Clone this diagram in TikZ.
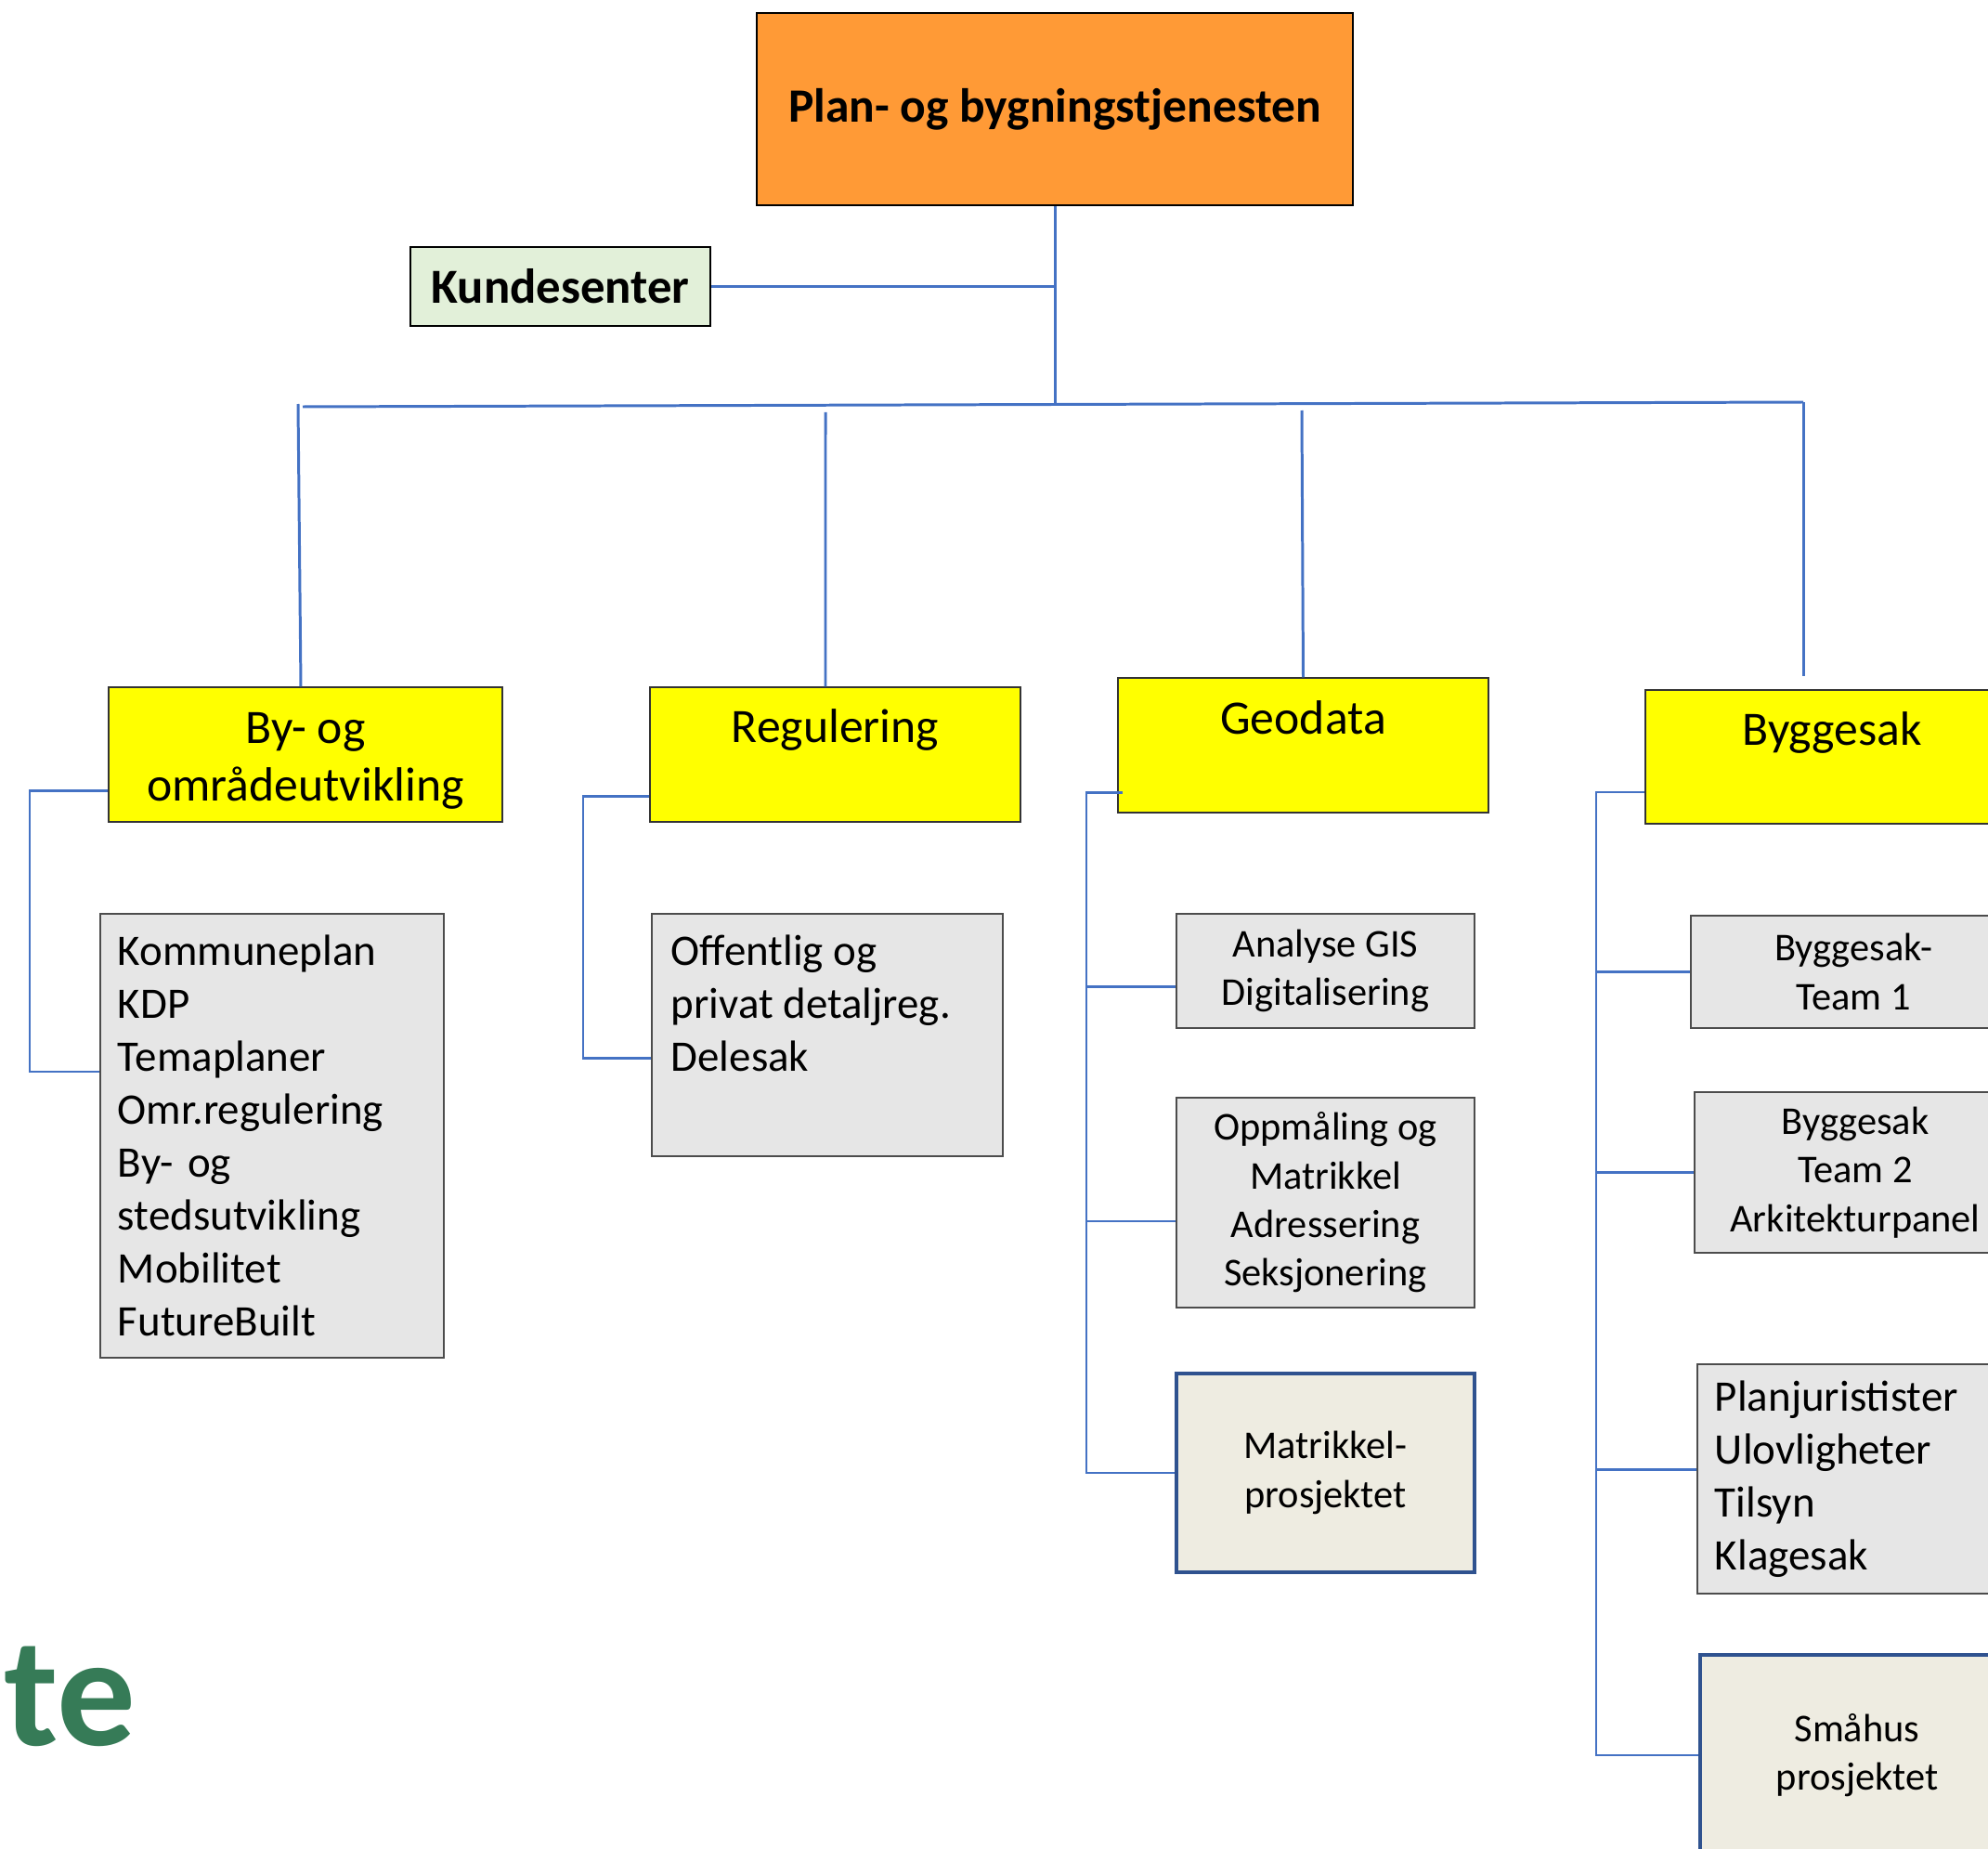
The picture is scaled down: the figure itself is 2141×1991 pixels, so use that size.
\documentclass[tikz,border=0pt]{standalone}
\usepackage{fontspec}
\setmainfont{Carlito}
\definecolor{pbLine}{HTML}{4472C4}
\definecolor{pbOrange}{HTML}{FF9A36}
\definecolor{pbYellow}{HTML}{FFFF00}
\definecolor{pbGreen}{HTML}{E2F0D9}
\definecolor{pbGrey}{HTML}{E6E6E6}
\definecolor{pbBeige}{HTML}{EEECE1}
\definecolor{pbBorder}{HTML}{2F528F}
\definecolor{pbLogo}{HTML}{367B57}

\begin{document}
\begin{tikzpicture}[
  x=0.01cm,y=-0.01cm,
  link/.style={draw=pbLine, line width=0.85pt},
  branch/.style={draw=pbLine, line width=0.7pt},
  topbox/.style={draw=black, fill=pbOrange, line width=0.5pt, inner sep=0pt,
    font=\fontsize{14.65pt}{17pt}\selectfont\bfseries},
  kbox/.style={draw=black, fill=pbGreen, line width=0.6pt, inner sep=0pt,
    font=\fontsize{15pt}{18pt}\selectfont\bfseries},
  unitbox/.style={draw=black!80, fill=pbYellow, line width=0.4pt, inner sep=0pt},
  listbox/.style={draw=black!70, fill=pbGrey, line width=0.4pt,
    inner xsep=0.19cm, inner ysep=0pt, align=left,
    font=\fontsize{13.35pt}{16.2pt}\selectfont},
  teambox/.style={draw=black!70, fill=pbGrey, line width=0.4pt, inner sep=0pt,
    align=center, font=\fontsize{12.06pt}{14.9pt}\selectfont},
  projbox/.style={teambox, draw=pbBorder, fill=pbBeige, line width=1pt},
  lbl/.style={inner sep=0pt, align=center, font=\fontsize{14.7pt}{17.6pt}\selectfont}
]
\useasboundingbox (0,0) rectangle (2141,1991);

% top of the tree
\node[topbox, minimum width=6.42cm, minimum height=2.07cm] (pbt) at (1136,117.5)
  {Plan- og bygningstjenesten};
\node[kbox, minimum width=3.23cm, minimum height=0.85cm] (kunde) at (603.5,308.5)
  {Kundesenter};

% the four units
\node[unitbox, minimum width=4.24cm, minimum height=1.45cm] (byomr) at (329,812.5) {};
\node[unitbox, minimum width=3.99cm, minimum height=1.45cm] (regul) at (899.5,812.5) {};
\node[unitbox, minimum width=3.99cm, minimum height=1.45cm] (geo) at (1403.5,802.5) {};
\node[unitbox, minimum width=4.02cm, minimum height=1.44cm] (bygg) at (1973,815) {};
\node[lbl] (byomrtxt) at (329,819.5) {By- og\\områdeutvikling};
\node[lbl, anchor=base] (regultxt) at (899.5,799) {Regulering};
\node[lbl, anchor=base] (geotxt) at (1403.5,790) {Geodata};
\node[lbl, anchor=base] (byggtxt) at (1973,802) {Byggesak};

% sections
\node[listbox, text width=3.32cm, minimum height=4.78cm] (plan) at (293,1223)
  {Kommuneplan\\KDP\\Temaplaner\\Omr.regulering\\By- og\\stedsutvikling\\Mobilitet\\FutureBuilt};
\node[listbox, minimum width=3.78cm, minimum height=2.61cm] (detalj) at (891,1114.5) {};
\node[lbl, anchor=north west, align=left, font=\fontsize{13.35pt}{16.2pt}\selectfont]
  (detaljtxt) at (722,1006) {Offentlig og\\privat detaljreg.\\Delesak};

\node[teambox, minimum width=3.21cm, minimum height=1.23cm] (gis) at (1427.5,1045.5)
  {Analyse GIS\\Digitalisering};
\node[teambox, minimum width=3.21cm, minimum height=2.26cm] (oppm) at (1427.5,1295)
  {Oppmåling og\\Matrikkel\\Adressering\\Seksjonering};
\node[projbox, minimum width=3.21cm, minimum height=2.14cm] (matrp) at (1427.5,1586)
  {Matrikkel-\\prosjektet};

\node[teambox, minimum width=3.50cm, minimum height=1.21cm] (team1) at (1996,1046.5)
  {Byggesak-\\Team 1};
\node[teambox, minimum width=3.46cm, minimum height=1.73cm] (team2) at (1998,1262.5)
  {Byggesak\\Team 2\\Arkitekturpanel};
\node[listbox, text width=3.04cm, minimum height=2.47cm] (jur) at (1999,1592.5)
  {Planjuristister\\Ulovligheter\\Tilsyn\\Klagesak};
\node[projbox, minimum width=3.38cm, minimum height=2.16cm] (smaahus) at (2000,1890)
  {Småhus\\prosjektet};

\node[anchor=base east, inner sep=0pt, text=pbLogo,
  font=\fontsize{48pt}{48pt}\selectfont\bfseries] (logo) at (147,1879) {te};

% connectors
\coordinate (bl) at (326,438);
\coordinate (br) at (1942,433);
\coordinate (hub) at (1136,435.5);
\coordinate (d1) at (321,435);
\coordinate (d2) at (889,444);
\coordinate (d3) at (1402,442);
\draw[link] (pbt.south) -- (hub);
\draw[link] (kunde.east) -- (kunde.east -| hub);
\draw[link] (bl) -- (br);
\draw[link] (d1) -- ([xshift=-0.05cm]byomr.north);
\draw[link] (d2) -- ([xshift=-0.105cm]regul.north);
\draw[link] (d3) -- (geo.north);
\draw[link, shorten >=0.14cm] (br) -- (br |- bygg.north);

\draw[branch] ([yshift=-0.39cm]byomr.west) -- ++(-84,0) |- ([yshift=0.69cm]plan.west);
\draw[branch] ([yshift=-0.45cm]regul.west) -- ++(-71,0) |- ([yshift=-0.25cm]detalj.west);

\draw[branch] ([shift={(0.06cm,-0.51cm)}]geo.west) -- ++(-39,0) coordinate (gv)
  |- (matrp.west);
\draw[branch] ([yshift=-0.17cm]gis.west) -- ++(-96,0);
\draw[branch] ([yshift=-0.20cm]oppm.west) -- ++(-96,0);

\draw[branch] ([yshift=-0.38cm]bygg.west) -- ++(-52,0) coordinate (bv) |- (smaahus.west);
\foreach \n in {team1,team2} {
  \draw[branch] (bv |- \n.west) -- (\n.west);
}
\draw[branch] ([yshift=0.10cm]jur.west) -- ++(-108,0);
\end{tikzpicture}
\end{document}
